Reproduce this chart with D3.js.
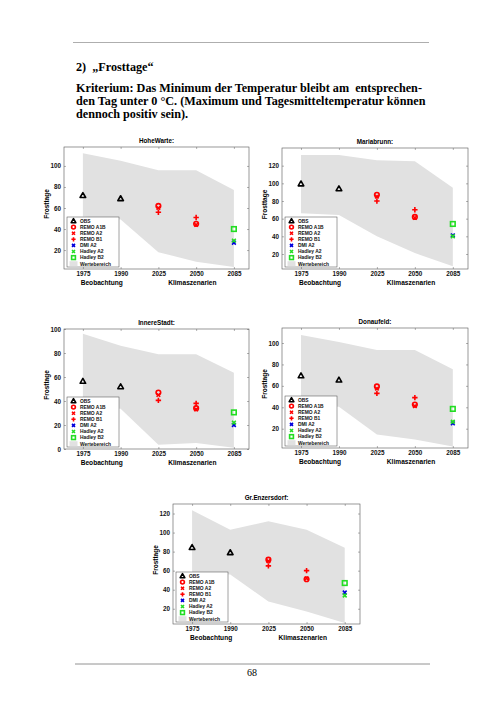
<!DOCTYPE html>
<html lang="de">
<head>
<meta charset="utf-8">
<title>Frosttage</title>
<script src="https://cdn.jsdelivr.net/npm/d3@7"></script>
<style>
  body { margin: 0; background: #fff; }
  svg { display: block; }
  .tick text { font-family: "Liberation Sans", Arial, sans-serif; font-weight: bold; }
</style>
</head>
<body>
<script>
// --- data ---
var years = ["1975", "1990", "2025", "2050", "2085"];
var stations = ["HoheWarte:", "Mariabrunn:", "InnereStadt:", "Donaufeld:", "Gr.Enzersdorf:"];

// observations 1975, 1990
var obs = [[72, 69], [99.5, 94], [56.5, 52], [69.5, 65.5], [84.5, 79]];
// REMO runs 2025, 2050
var remoA1B = [[62, 45], [87, 62], [47, 34], [59.5, 42.5], [71.5, 51]];
var remoA2  = [[60, 44], [85, 61], [45, 33], [57.5, 41], [70, 52]];
var remoB1  = [[56, 51], [80, 70], [40.5, 38], [53, 49], [65, 60]];
// 2085
var dmiA2    = [27, 41, 20, 25, 37];
var hadleyA2 = [29, 40, 22, 26.5, 34];
var hadleyB2 = [40, 54, 30.5, 38.5, 47];
// Wertebereich (range) upper and lower edge for the five periods
var bandTop    = [[112, 105, 96, 96, 77], [132, 132, 126, 125, 95], [96, 86, 79, 79, 63.5],
                  [107.5, 101, 93.5, 93.5, 75.5], [123.5, 103, 112, 103, 84]];
var bandBottom = [[52, 49, 18, 9, 4], [66, 64, 40, 21, 6], [35, 33.5, 3.5, 5, 1],
                  [42, 40.5, 14.5, 10, 3.5], [58, 56, 27.5, 17, 5]];
// axis limits and ticks
var yDomains = [[2, 118], [3, 140], [0, 100], [2, 114], [4, 130]];
var yTicks = [[20, 40, 60, 80, 100], [20, 40, 60, 80, 100, 120], [0, 20, 40, 60, 80, 100],
              [20, 40, 60, 80, 100], [20, 40, 60, 80, 100, 120]];
var legendNames = ["OBS", "REMO A1B", "REMO A2", "REMO B1", "DMI A2", "Hadley A2", "Hadley B2", "Wertebereich"];

// --- page ---
var W = 504, H = 713;
var svg = d3.select("body").append("svg").attr("width", W).attr("height", H);
svg.append("rect").attr("width", W).attr("height", H).attr("fill", "#fff");

var serif = "'Liberation Serif', 'Times New Roman', serif";
var sans = "'Liberation Sans', Arial, sans-serif";

svg.append("line").attr("x1", 73).attr("x2", 429).attr("y1", 42.5).attr("y2", 42.5)
   .attr("stroke", "#999").attr("stroke-width", 0.8);
svg.append("line").attr("x1", 75).attr("x2", 430).attr("y1", 664).attr("y2", 664)
   .attr("stroke", "#777").attr("stroke-width", 0.8);
svg.append("text").attr("x", 252).attr("y", 675.5).attr("text-anchor", "middle")
   .attr("font-family", serif).attr("font-size", 10).text("68");

var header = ["2)  \u201EFrosttage\u201C",
              "Kriterium: Das Minimum der Temperatur bleibt am  entsprechen-",
              "den Tag unter 0 \u00B0C. (Maximum und Tagesmitteltemperatur k\u00F6nnen",
              "dennoch positiv sein)."];
var headerY = [71, 92, 105, 117.5];
svg.selectAll("text.head").data(header).enter().append("text")
   .attr("class", "head")
   .attr("x", 76).attr("y", function(d, i) { return headerY[i]; })
   .attr("font-family", serif).attr("font-weight", "bold").attr("font-size", 12.2)
   .attr("xml:space", "preserve").style("white-space", "pre")
   .text(function(d) { return d; });

// panel boxes
var panels = [
  {x: 64, y: 147, w: 185, h: 122},
  {x: 282, y: 148, w: 186, h: 121},
  {x: 64, y: 329, w: 185, h: 120},
  {x: 282, y: 328, w: 186, h: 120},
  {x: 173, y: 504, w: 187, h: 120}
];

var red = "#ff0000", blue = "#0000dd", green = "#22dd22";
var sw = 1.6;

function tri(g, x, y, s) {
  g.append("path").attr("d", "M" + x + "," + (y - s) + "L" + (x + s) + "," + (y + s * 0.75) + "L" + (x - s) + "," + (y + s * 0.75) + "Z")
   .attr("fill", "none").attr("stroke", "#000").attr("stroke-width", sw).attr("stroke-linejoin", "round");
}
function circ(g, x, y, r, c) {
  g.append("circle").attr("cx", x).attr("cy", y).attr("r", r)
   .attr("fill", "none").attr("stroke", c).attr("stroke-width", sw);
}
function cross(g, x, y, s, c) {
  g.append("path").attr("d", "M" + (x - s) + "," + (y - s) + "L" + (x + s) + "," + (y + s) + "M" + (x - s) + "," + (y + s) + "L" + (x + s) + "," + (y - s))
   .attr("stroke", c).attr("stroke-width", sw);
}
function plus(g, x, y, s, c) {
  g.append("path").attr("d", "M" + (x - s) + "," + y + "L" + (x + s) + "," + y + "M" + x + "," + (y - s) + "L" + x + "," + (y + s))
   .attr("stroke", c).attr("stroke-width", sw);
}
function square(g, x, y, s, c) {
  g.append("rect").attr("x", x - s).attr("y", y - s).attr("width", 2 * s).attr("height", 2 * s)
   .attr("fill", "none").attr("stroke", c).attr("stroke-width", sw);
}

panels.forEach(function(p, k) {
  var g = svg.append("g").attr("transform", "translate(" + p.x + "," + p.y + ")");
  var x = d3.scaleLinear().domain([0.5, 5.4]).range([0, p.w]);
  var y = d3.scaleLinear().domain(yDomains[k]).range([p.h, 0]);

  // Wertebereich
  var band = d3.range(5).map(function(i) { return {i: i + 1, hi: bandTop[k][i], lo: bandBottom[k][i]}; });
  g.append("path").datum(band)
   .attr("d", d3.area().x(function(d) { return x(d.i); }).y0(function(d) { return y(d.lo); }).y1(function(d) { return y(d.hi); }))
   .attr("fill", "#e1e1e1");

  // axes (ticks inside, like matlab)
  var xa = d3.axisBottom(x).tickValues([1, 2, 3, 4, 5]).tickFormat(function(d) { return years[d - 1]; })
             .tickSize(-2).tickPadding(2.5);
  var ya = d3.axisLeft(y).tickValues(yTicks[k]).tickSize(-2).tickPadding(3);
  var gx = g.append("g").attr("transform", "translate(0," + p.h + ")").call(xa);
  var gy = g.append("g").call(ya);
  g.append("g").call(d3.axisTop(x).tickValues([1, 2, 3, 4, 5]).tickSize(-2).tickFormat(""));
  g.append("g").attr("transform", "translate(" + p.w + ",0)").call(d3.axisRight(y).tickValues(yTicks[k]).tickSize(-2).tickFormat(""));
  g.selectAll(".domain").remove();
  g.selectAll(".tick line").attr("stroke", "#666").attr("stroke-width", 0.5);
  gx.selectAll("text").attr("font-size", 6.3).attr("fill", "#111");
  gy.selectAll("text").attr("font-size", 6.3).attr("fill", "#111");
  g.append("rect").attr("width", p.w).attr("height", p.h)
   .attr("fill", "none").attr("stroke", "#555").attr("stroke-width", 0.6);

  // labels
  g.append("text").attr("x", p.w / 2).attr("y", -4).attr("text-anchor", "middle")
   .attr("font-family", sans).attr("font-weight", "bold").attr("font-size", 6.3).text(stations[k]);
  g.append("text").attr("x", x(1.5)).attr("y", p.h + 16).attr("text-anchor", "middle")
   .attr("font-family", sans).attr("font-weight", "bold").attr("font-size", 6.6).text("Beobachtung");
  g.append("text").attr("x", x(3.9)).attr("y", p.h + 16).attr("text-anchor", "middle")
   .attr("font-family", sans).attr("font-weight", "bold").attr("font-size", 6.6).text("Klimaszenarien");
  g.append("text").attr("transform", "translate(" + -15.5 + "," + (p.h / 2 - 4) + ") rotate(-90)")
   .attr("text-anchor", "middle")
   .attr("font-family", sans).attr("font-weight", "bold").attr("font-size", 6.5).text("Frosttage");

  // markers
  obs[k].forEach(function(v, i) { tri(g, x(i + 1), y(v), 2.8); });
  remoA1B[k].forEach(function(v, i) { circ(g, x(i + 3), y(v), 2.3, red); });
  remoA2[k].forEach(function(v, i) { cross(g, x(i + 3), y(v), 1.8, red); });
  remoB1[k].forEach(function(v, i) { plus(g, x(i + 3), y(v), 2.7, red); });
  cross(g, x(5), y(dmiA2[k]), 1.9, blue);
  cross(g, x(5), y(hadleyA2[k]), 1.9, green);
  square(g, x(5), y(hadleyB2[k]), 2.3, green);

  // legend
  var lg = g.append("g").attr("transform", "translate(3," + (p.h - 52) + ")");
  lg.append("rect").attr("width", 52).attr("height", 50).attr("fill", "#fff")
    .attr("stroke", "#444").attr("stroke-width", 0.5);
  legendNames.forEach(function(name, i) {
    var ly = 4 + i * 6.1, lx = 6.5;
    if (i === 0) tri(lg, lx, ly, 2.3);
    if (i === 1) circ(lg, lx, ly, 1.9, red);
    if (i === 2) cross(lg, lx, ly, 1.5, red);
    if (i === 3) plus(lg, lx, ly, 2.1, red);
    if (i === 4) cross(lg, lx, ly, 1.5, blue);
    if (i === 5) cross(lg, lx, ly, 1.5, green);
    if (i === 6) square(lg, lx, ly, 1.9, green);
    if (i === 7) lg.append("rect").attr("x", lx - 4).attr("y", ly - 2.5).attr("width", 8).attr("height", 5).attr("fill", "#e1e1e1");
    lg.append("text").attr("x", 13).attr("y", ly + 1.8)
      .attr("font-family", sans).attr("font-weight", "bold").attr("font-size", 4.9).attr("fill", "#111").text(name);
  });
});
</script>
</body>
</html>
